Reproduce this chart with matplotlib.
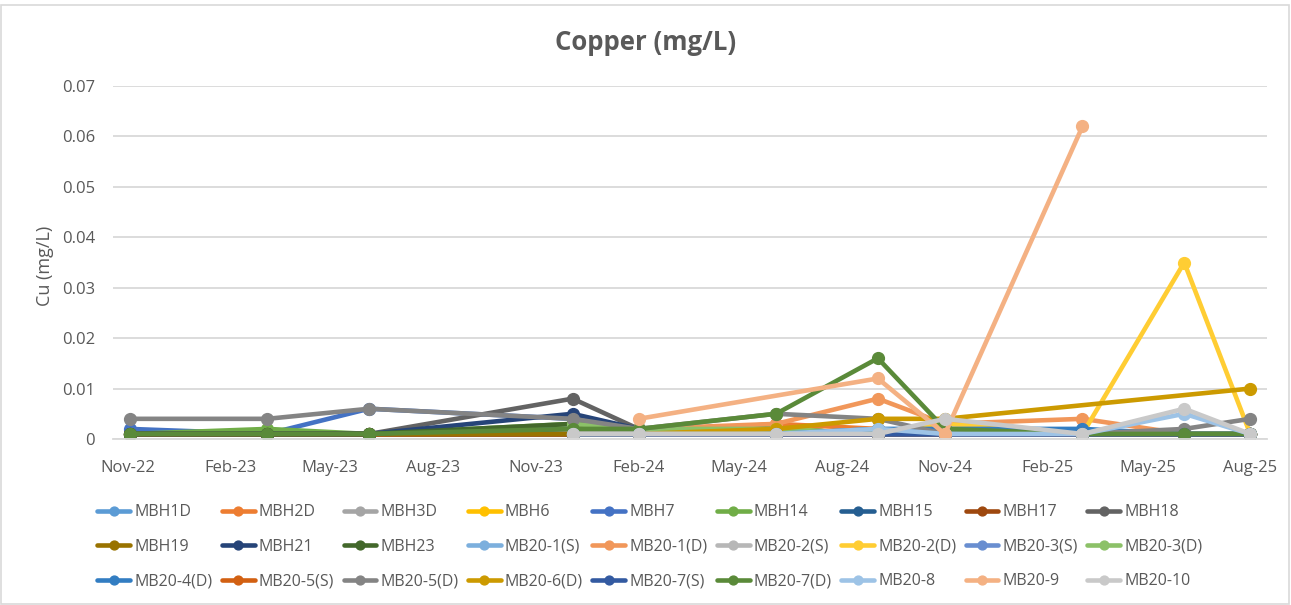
import numpy as np
import matplotlib
matplotlib.use("Agg")
import matplotlib.pyplot as plt
import matplotlib.dates as mdates
from matplotlib.patches import Rectangle
from matplotlib.ticker import FuncFormatter, MultipleLocator
from datetime import datetime

nan = np.nan

sample_dates = ["2022-11-03", "2023-03-06", "2023-06-05", "2023-12-04", "2024-02-01",
                "2024-06-03", "2024-09-02", "2024-11-01", "2025-03-04", "2025-06-03",
                "2025-08-01"]

series_names = ["MBH1D", "MBH2D", "MBH3D", "MBH6", "MBH7", "MBH14", "MBH15", "MBH17", "MBH18",
                "MBH19", "MBH21", "MBH23", "MB20-1(S)", "MB20-1(D)", "MB20-2(S)", "MB20-2(D)",
                "MB20-3(S)", "MB20-3(D)", "MB20-4(D)", "MB20-5(S)", "MB20-5(D)", "MB20-6(D)",
                "MB20-7(S)", "MB20-7(D)", "MB20-8", "MB20-9", "MB20-10"]

series_colors = ["#5B9BD5", "#ED7D31", "#A5A5A5", "#FFC000", "#4472C4", "#70AD47", "#255E91",
                 "#9E480E", "#636363", "#997300", "#264478", "#43682B", "#7CAFDD", "#F1975A",
                 "#B7B7B7", "#FFCD33", "#698ED0", "#8CC168", "#327DC2", "#D26012", "#848484",
                 "#CC9A00", "#335AA1", "#5A8A39", "#9DC3E6", "#F4B183", "#C9C9C9"]

MBH1D    = [0.001, 0.001, 0.001, 0.001, 0.001, 0.001, 0.001, 0.001, 0.001, 0.001, 0.001]
MBH2D    = [0.001, 0.001, 0.001, 0.001, 0.001, 0.003, 0.002, 0.001, 0.001, 0.001, 0.001]
MBH3D    = [0.001, 0.001, 0.001, 0.002, 0.001, 0.002, 0.001, 0.001, 0.001, 0.001, 0.001]
MBH6     = [0.001, 0.001, 0.001, 0.001, 0.001, 0.002, 0.001, 0.001, 0.001, 0.001, 0.001]
MBH7     = [0.002, 0.001, 0.006, 0.004, 0.002, 0.001, 0.001, 0.001, 0.001, 0.001, 0.001]
MBH14    = [0.001, 0.002, 0.001, 0.003, 0.002, 0.002, 0.001, 0.001, 0.001, 0.001, 0.001]
MBH15    = [0.001, 0.001, 0.001, 0.002, 0.001, 0.001, 0.001, 0.002, 0.001, 0.001, 0.001]
MBH17    = [0.001, 0.001, 0.001, 0.001, 0.001, 0.001, 0.001, 0.001, 0.001, 0.001, 0.001]
MBH18    = [0.001, 0.001, 0.001, 0.008, 0.002, 0.002, 0.001, 0.001, 0.001, 0.001, 0.001]
MBH19    = [0.001, 0.001, 0.001, 0.001, 0.001, 0.002, 0.001, 0.001, 0.001, 0.001, 0.001]
MBH21    = [0.001, 0.001, 0.001, 0.005, 0.002, 0.001, 0.001, 0.001, 0.001, 0.001, 0.001]
MBH23    = [0.001, 0.001, 0.001, 0.003, 0.002, 0.002, 0.001, 0.001, 0.001, 0.001, 0.001]
MB20_1S  = [nan, nan, nan, 0.001, 0.001, 0.001, 0.002, 0.001, 0.001, 0.001, 0.001]
MB20_1D  = [nan, nan, nan, 0.002, 0.002, 0.003, 0.008, 0.003, 0.004, 0.001, 0.001]
MB20_2S  = [nan, nan, nan, 0.001, 0.001, 0.001, 0.001, 0.001, 0.001, 0.001, 0.001]
MB20_2D  = [nan, nan, nan, 0.001, 0.001, 0.002, 0.001, 0.003, 0.001, 0.035, 0.001]
MB20_3S  = [nan, nan, nan, 0.001, 0.001, 0.001, 0.001, 0.001, 0.001, 0.001, 0.001]
MB20_3D  = [nan, nan, nan, 0.003, 0.002, 0.002, 0.001, 0.001, 0.001, 0.001, 0.001]
MB20_4D  = [nan, nan, nan, 0.001, 0.001, 0.001, 0.002, 0.002, 0.002, 0.001, 0.001]
MB20_5S  = [nan, nan, nan, 0.001, 0.001, 0.001, 0.001, 0.001, 0.001, 0.001, 0.001]
MB20_5D  = [0.004, 0.004, 0.006, 0.004, 0.002, 0.005, 0.004, 0.001, 0.001, 0.002, 0.004]
MB20_6D  = [nan, nan, nan, 0.001, 0.001, 0.002, 0.004, 0.004, nan, nan, 0.010]
MB20_7S  = [nan, nan, nan, 0.001, 0.001, 0.001, 0.001, 0.001, 0.001, 0.001, 0.001]
MB20_7D  = [0.001, 0.001, 0.001, 0.002, 0.002, 0.005, 0.016, 0.002, 0.001, 0.001, 0.001]
MB20_8   = [nan, nan, nan, 0.001, 0.001, 0.001, 0.002, 0.001, 0.001, 0.005, 0.001]
MB20_9   = [nan, nan, nan, nan, 0.004, nan, 0.012, 0.001, 0.062, nan, nan]
MB20_10  = [nan, nan, nan, 0.001, 0.001, 0.001, 0.001, 0.004, 0.001, 0.006, 0.001]

series_values = [MBH1D, MBH2D, MBH3D, MBH6, MBH7, MBH14, MBH15, MBH17, MBH18, MBH19, MBH21,
                 MBH23, MB20_1S, MB20_1D, MB20_2S, MB20_2D, MB20_3S, MB20_3D, MB20_4D, MB20_5S,
                 MB20_5D, MB20_6D, MB20_7S, MB20_7D, MB20_8, MB20_9, MB20_10]

tick_dates = ["2022-11-01", "2023-02-01", "2023-05-01", "2023-08-01", "2023-11-01",
              "2024-02-01", "2024-05-01", "2024-08-01", "2024-11-01", "2025-02-01",
              "2025-05-01", "2025-08-01"]

FONT = "Open Sans"
TXT = "#595959"
plt.rcParams["font.family"] = [FONT, "DejaVu Sans"]

W, H = 1291, 605
fig = plt.figure(figsize=(W / 100, H / 100), dpi=100)
fig.patch.set_facecolor("white")
fig.patches.append(Rectangle((1.5 / W, 1.5 / H), 1 - 4 / W, 1 - 6 / H, transform=fig.transFigure,
                             fill=False, edgecolor="#D9D9D9", linewidth=1.2))

ax_l, ax_r, ax_t, ax_b = 113, 1267, 86, 439
ax = fig.add_axes([ax_l / W, 1 - ax_b / H, (ax_r - ax_l) / W, (ax_b - ax_t) / H])

dates = np.array([datetime.strptime(d, "%Y-%m-%d") for d in sample_dates])
handles = []
for name, col, vals in zip(series_names, series_colors, series_values):
    v = np.array(vals, dtype=float)
    m = ~np.isnan(v)
    h, = ax.plot(dates[m], v[m], color=col, linewidth=3.3, marker="o", markersize=8.5,
                 solid_capstyle="round", solid_joinstyle="round", label=name)
    handles.append(h)

ax.set_ylim(0, 0.07)
ax.yaxis.set_major_locator(MultipleLocator(0.01))
ax.yaxis.set_major_formatter(FuncFormatter(lambda v, p: "0" if abs(v) < 1e-9 else f"{v:.2f}"))
ax.set_xlim(datetime(2022, 10, 19), datetime(2025, 8, 16))
ax.set_xticks([datetime.strptime(d, "%Y-%m-%d") for d in tick_dates])
ax.xaxis.set_major_formatter(mdates.DateFormatter("%b-%y"))
ax.grid(axis="y", color="#D9D9D9", linewidth=1.3)
ax.set_axisbelow(True)
for s in ["top", "right", "left"]:
    ax.spines[s].set_visible(False)
ax.spines["bottom"].set_color("#D9D9D9")
ax.spines["bottom"].set_linewidth(1.3)
ax.tick_params(axis="both", length=0, labelsize=12, labelcolor=TXT)
ax.tick_params(axis="x", pad=15)
ax.tick_params(axis="y", pad=13)

fig.text(0.5, 1 - 43 / H, "Copper (mg/L)", ha="center", va="center",
         fontsize=18.5, fontweight="bold", color=TXT)
fig.text(45 / W, 1 - 266 / H, "Cu (mg/L)", rotation=90, ha="center", va="center",
         fontsize=13, color=TXT)

ncol, nrow = 9, 3
order = [r * ncol + c for c in range(ncol) for r in range(nrow)]
leg = fig.legend([handles[i] for i in order], [series_names[i] for i in order],
                 loc="upper left", bbox_to_anchor=(83 / W, 1 - 490 / H), ncol=ncol,
                 frameon=False, fontsize=11.5, handlelength=2.05, handletextpad=0.25,
                 columnspacing=0.6, labelspacing=1.15, markerscale=0.75)
for t in leg.get_texts():
    t.set_color(TXT)

fig.savefig("out.png", dpi=100)
